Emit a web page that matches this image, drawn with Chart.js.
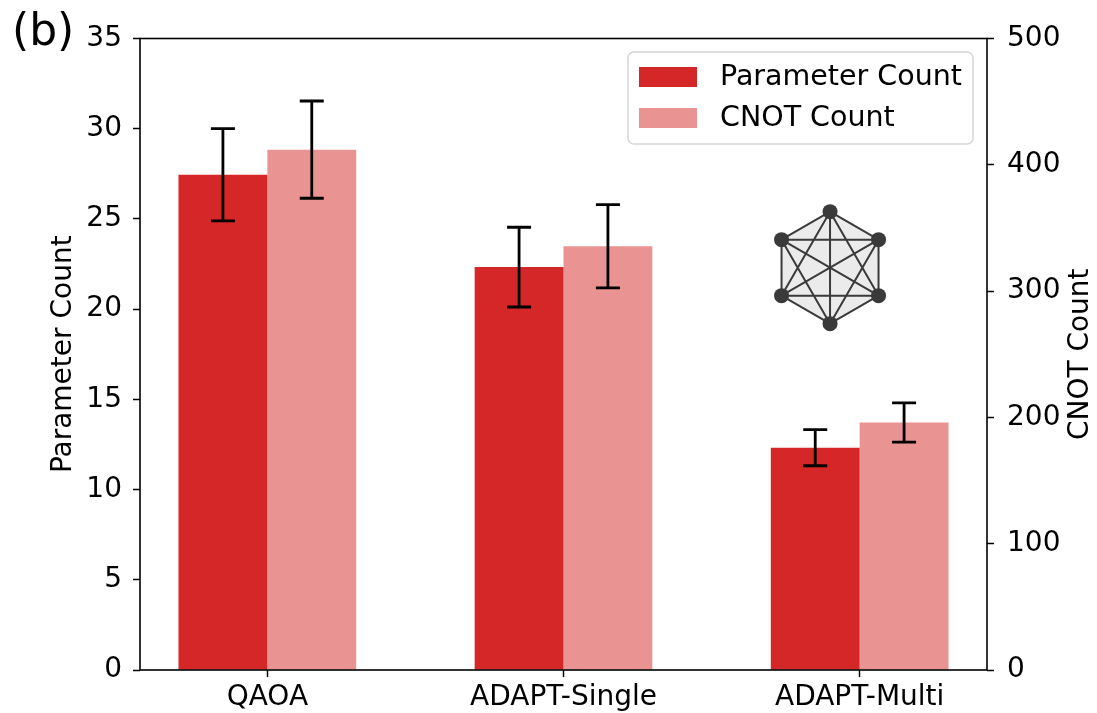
<!DOCTYPE html>
<html>
<head>
<meta charset="utf-8">
<script src="https://cdn.jsdelivr.net/npm/chart.js@4.4.1/dist/chart.umd.min.js"></script>
<style>
  html, body { margin: 0; padding: 0; background: #fff; }
  #wrap { width: 1097px; height: 713px; }
</style>
</head>
<body>
<div id="wrap"><canvas id="chart" width="1097" height="713"></canvas></div>
<script>
// --- data ---
const categories = ['QAOA', 'ADAPT-Single', 'ADAPT-Multi'];
const paramCounts = [27.45, 22.33, 12.32];
const paramErrors = [2.56, 2.21, 1.0];
const cnotCounts = [412, 335.5, 196];
const cnotErrors = [38.5, 33, 15.5];
const leftTicks = [0, 5, 10, 15, 20, 25, 30, 35];
const rightTicks = [0, 100, 200, 300, 400, 500];

const paramColor = '#d62728';
const cnotColor = '#ea9393';
const FONT = 'DejaVu Sans';

// error bars drawn from the data through the y scales
const errorBars = {
  id: 'errorBars',
  afterDatasetsDraw(chart) {
    const ctx = chart.ctx;
    chart.data.datasets.forEach((ds, i) => {
      const meta = chart.getDatasetMeta(i);
      const yScale = chart.scales[ds.yAxisID];
      meta.data.forEach((bar, j) => {
        const v = ds.data[j].y, e = ds.errors[j];
        const top = yScale.getPixelForValue(v + e);
        const bot = yScale.getPixelForValue(v - e);
        ctx.save();
        ctx.strokeStyle = '#000';
        ctx.lineWidth = 2.8;
        ctx.beginPath();
        ctx.moveTo(bar.x, top); ctx.lineTo(bar.x, bot);
        ctx.moveTo(bar.x - 12, top); ctx.lineTo(bar.x + 12, top);
        ctx.moveTo(bar.x - 12, bot); ctx.lineTo(bar.x + 12, bot);
        ctx.stroke();
        ctx.restore();
      });
    });
  }
};

// frame, legend, labels and the complete-graph inset
const decorations = {
  id: 'decorations',
  afterDraw(chart) {
    const ctx = chart.ctx;
    const a = chart.chartArea;
    ctx.save();

    // axes frame
    ctx.strokeStyle = '#000';
    ctx.lineWidth = 1.6;
    ctx.strokeRect(a.left, a.top, a.right - a.left, a.bottom - a.top);

    // panel label
    ctx.fillStyle = '#000';
    ctx.font = `44px "${FONT}"`;
    ctx.textBaseline = 'alphabetic';
    ctx.textAlign = 'left';
    ctx.fillText('(b)', 12, 45);

    // right axis title, reading upwards like the left one
    ctx.save();
    ctx.translate(1081, (a.top + a.bottom) / 2);
    ctx.rotate(-Math.PI / 2);
    ctx.font = `28px "${FONT}"`;
    ctx.textAlign = 'center';
    ctx.textBaseline = 'middle';
    ctx.fillText('CNOT Count', 0, 0);
    ctx.restore();

    // legend
    const w = 345, h = 92;
    const lx = a.right - 14 - w, ly = a.top + 13.5;
    ctx.beginPath();
    ctx.roundRect(lx, ly, w, h, 6);
    ctx.fillStyle = 'rgba(255,255,255,0.85)';
    ctx.fill();
    ctx.strokeStyle = '#d6d6d6';
    ctx.lineWidth = 1.5;
    ctx.stroke();
    ctx.font = `28.5px "${FONT}"`;
    ctx.textBaseline = 'middle';
    ctx.textAlign = 'left';
    chart.data.datasets.forEach((ds, i) => {
      const cy = ly + 25 + i * 41;
      ctx.fillStyle = ds.backgroundColor;
      ctx.fillRect(lx + 11, cy - 10, 58, 20);
      ctx.fillStyle = '#000';
      ctx.fillText(ds.label, lx + 92, cy + 1);
    });

    // K6 inset, placed through the scales
    const cx = chart.scales.x.getPixelForValue(1.9);
    const cy = chart.scales.y.getPixelForValue(22.3);
    const r = 56;
    const pts = [];
    for (let k = 0; k < 6; k++) {
      const ang = -Math.PI / 2 + k * Math.PI / 3;
      pts.push([cx + r * Math.cos(ang), cy + r * Math.sin(ang)]);
    }
    ctx.beginPath();
    pts.forEach((p, k) => k ? ctx.lineTo(p[0], p[1]) : ctx.moveTo(p[0], p[1]));
    ctx.closePath();
    ctx.fillStyle = '#ebebeb';
    ctx.fill();
    ctx.strokeStyle = '#3a3a3a';
    ctx.lineWidth = 2;
    ctx.beginPath();
    for (let m = 0; m < 6; m++) {
      for (let n = m + 1; n < 6; n++) {
        ctx.moveTo(pts[m][0], pts[m][1]);
        ctx.lineTo(pts[n][0], pts[n][1]);
      }
    }
    ctx.stroke();
    ctx.fillStyle = '#3a3a3a';
    pts.forEach(p => {
      ctx.beginPath();
      ctx.arc(p[0], p[1], 7.5, 0, Math.PI * 2);
      ctx.fill();
    });

    ctx.restore();
  }
};

const tickFont = { family: FONT, size: 28 };

new Chart(document.getElementById('chart').getContext('2d'), {
  type: 'bar',
  data: {
    datasets: [
      {
        label: 'Parameter Count',
        data: paramCounts.map((v, i) => ({ x: i, y: v })),
        errors: paramErrors,
        backgroundColor: paramColor,
        yAxisID: 'y',
      },
      {
        label: 'CNOT Count',
        data: cnotCounts.map((v, i) => ({ x: i, y: v })),
        errors: cnotErrors,
        backgroundColor: cnotColor,
        yAxisID: 'y1',
      },
    ],
  },
  options: {
    responsive: false,
    devicePixelRatio: 1,
    animation: false,
    categoryPercentage: 0.6,
    barPercentage: 1.0,
    layout: { padding: { top: 38.5, left: 0, right: 0, bottom: 0 } },
    plugins: { legend: { display: false }, tooltip: { enabled: false } },
    scales: {
      x: {
        type: 'linear',
        min: -0.43,
        max: 2.43,
        offset: false,
        afterBuildTicks: s => { s.ticks = categories.map((_, i) => ({ value: i })); },
        afterFit: s => { s.height = 43; },
        grid: { offset: false, drawOnChartArea: false, drawTicks: true, tickLength: 7, tickWidth: 1.5, tickColor: '#000' },
        border: { display: false },
        ticks: {
          color: '#000', font: tickFont, padding: 4, maxRotation: 0, autoSkip: false,
          callback: v => categories[v],
        },
      },
      y: {
        position: 'left',
        min: 0,
        max: 35,
        afterBuildTicks: s => { s.ticks = leftTicks.map(v => ({ value: v })); },
        afterFit: s => { s.width = 140; },
        grid: { drawOnChartArea: false, drawTicks: true, tickLength: 7, tickWidth: 1.5, tickColor: '#000' },
        border: { display: false },
        ticks: { color: '#000', font: tickFont, padding: 11 },
        title: { display: true, text: 'Parameter Count', color: '#000', font: tickFont, padding: { top: 47 } },
      },
      y1: {
        position: 'right',
        min: 0,
        max: 500,
        afterBuildTicks: s => { s.ticks = rightTicks.map(v => ({ value: v })); },
        afterFit: s => { s.width = 110; },
        grid: { drawOnChartArea: false, drawTicks: true, tickLength: 7, tickWidth: 1.5, tickColor: '#000' },
        border: { display: false },
        ticks: { color: '#000', font: tickFont, padding: 13 },
      },
    },
  },
  plugins: [errorBars, decorations],
});
</script>
</body>
</html>
